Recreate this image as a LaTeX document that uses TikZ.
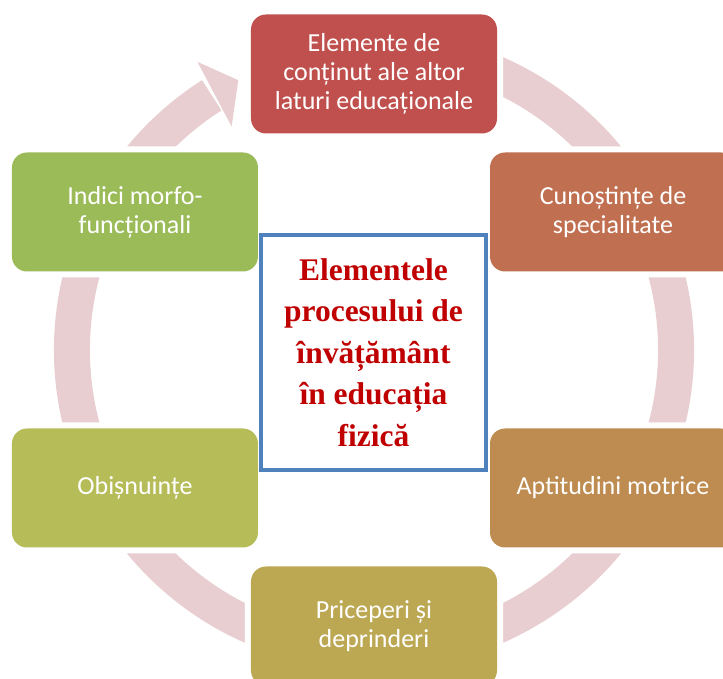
\documentclass[tikz,border=0pt]{standalone}
\usepackage{fontspec}
\newfontfamily\stagefont{Carlito}
\newfontfamily\corefont{Liberation Serif}
\definecolor{ringpink}{RGB}{232,206,208}
\definecolor{stageA}{RGB}{192,80,77}
\definecolor{stageB}{RGB}{192,112,80}
\definecolor{stageC}{RGB}{190,140,80}
\definecolor{stageD}{RGB}{188,168,82}
\definecolor{stageE}{RGB}{182,188,88}
\definecolor{stageF}{RGB}{155,187,89}
\definecolor{coreblue}{RGB}{79,129,189}
\definecolor{corered}{RGB}{192,0,0}

\begin{document}
\begin{tikzpicture}[x=1pt,y=1pt,
 ring/.style ={-,draw=ringpink,line width=36pt},
 stage/.style ={rounded corners=15pt,minimum width=246pt,minimum height=119pt,inner sep=0pt,
   text=white,align=center,font=\stagefont\fontsize{26}{29}\selectfont,
   preaction={draw=white,line width=12pt}},
 core/.style ={draw=coreblue,line width=4pt,fill=white,minimum width=225pt,minimum height=235pt,
   inner sep=0pt,text=corered,align=center,font=\corefont\bfseries\fontsize{31.5}{41.5}\selectfont}
 ]
\useasboundingbox (-374,-329) rectangle (349,350);
\clip (-374,-329) rectangle (349,350);
%draw cycle ring
\draw[ring] (70:302) arc[start angle=70,end angle=-237.5,radius=302];
%draw ring arrowhead
\fill[ringpink] (122.5:265) -- (116.7:302) -- (121.5:338) -- cycle;
%draw stage boxes around the ring
\node[stage,fill=stageA] (content) at (90:276) {Elemente de\\conținut ale altor\\laturi educaționale};
\node[stage,fill=stageB] (knowledge) at (30:276) {Cunoștințe de\\specialitate};
\node[stage,fill=stageC] (aptitudes) at (-30:276) {Aptitudini motrice};
\node[stage,fill=stageD] (skills) at (-90:276) {Priceperi și\\deprinderi};
\node[stage,fill=stageE] (habits) at (-150:276) {Obișnuințe};
\node[stage,fill=stageF] (indices) at (150:276) {Indici morfo-\\funcționali};
%draw central box
\node[core] (core) at (-0.5,-2.5) {Elementele\\procesului de\\învățământ\\în educația\\fizică};
\end{tikzpicture}
\end{document}
